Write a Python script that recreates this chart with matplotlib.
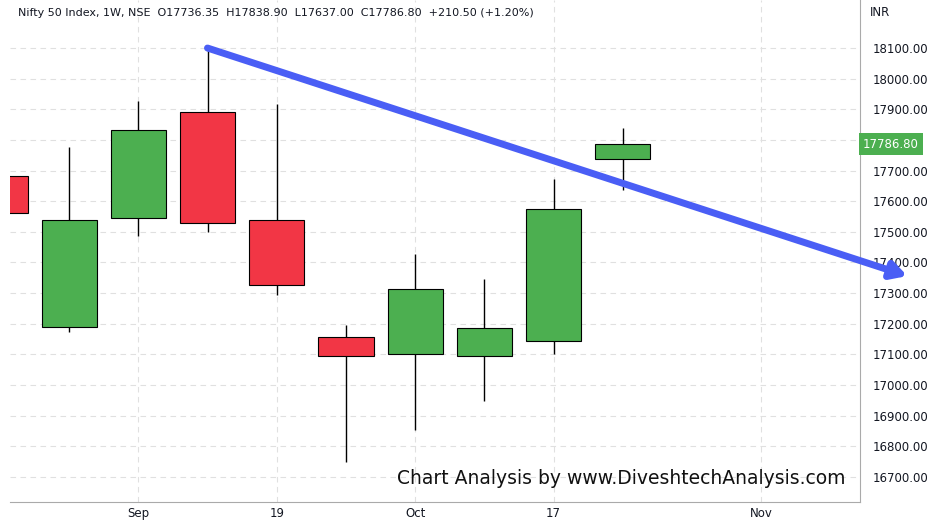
import matplotlib.pyplot as plt

# weekly candles, Nifty 50
opens = [17682, 17190, 17545, 17891, 17539, 17157, 17101, 17095, 17144, 17736.35]
highs = [17700, 17777, 17927, 18103, 17917, 17196, 17428, 17346, 17672, 17838.90]
lows = [17540, 17173, 17486, 17499, 17294, 16749, 16853, 16948, 17101, 17637.00]
closes = [17561, 17539, 17832, 17529, 17326, 17095, 17313, 17186, 17575, 17786.80]
xtick_pos = [2, 4, 6, 8, 11]
xtick_labels = ["Sep", "19", "Oct", "17", "Nov"]
ytick_vals = list(range(16700, 18101, 100))
last_price = 17786.80
arrow_start = (2.96, 18103)
arrow_end = (13.15, 17353)

fig = plt.figure(figsize=(9.38, 5.29), dpi=100)
ax = fig.add_axes([10 / 938, 27 / 529, 850 / 938, 502 / 529])
ax.set_xlim(10 / 69.2, 860 / 69.2)
ax.set_ylim(16618, 18257)

for i, (o, h, l, c) in enumerate(zip(opens, highs, lows, closes)):
    col = "#4caf50" if c >= o else "#f23645"
    ax.vlines(i, l, h, color="black", lw=1, zorder=2)
    ax.bar(i, abs(c - o), bottom=min(o, c), width=0.8, color=col,
           edgecolor="black", lw=0.8, zorder=3)

ax.set_xticks(xtick_pos)
ax.set_xticklabels(xtick_labels)
ax.set_yticks(ytick_vals)
ax.yaxis.tick_right()
# the 17800 label sits under the last-price tag
ax.set_yticklabels(["" if v == 17800 else f"{v:.2f}" for v in ytick_vals])
ax.tick_params(axis="both", length=0, labelsize=8.5, colors="#131722")
ax.tick_params(axis="y", pad=9)
ax.grid(True, color="#e0e0e0", ls=(0, (5, 4)), lw=0.8)
for s in ["top", "left"]:
    ax.spines[s].set_visible(False)
ax.spines["right"].set_color("#aaaaaa")
ax.spines["bottom"].set_color("#aaaaaa")

ax.text(860 / 69.2 + 0.04, last_price, f"{last_price:.2f}",
        ha="left", va="center", fontsize=8.5, color="white", zorder=5,
        bbox=dict(boxstyle="square,pad=0.35", fc="#4caf50", ec="none"), clip_on=False)
ax.annotate("", xy=arrow_end, xytext=arrow_start,
            arrowprops=dict(arrowstyle="-|>,head_width=0.5,head_length=0.9",
                            color="#4a5ef5", lw=5), annotation_clip=False)

fig.text(870 / 938, 1 - 13 / 529, "INR", fontsize=8.5, color="#131722", va="center")
fig.text(18 / 938, 1 - 13 / 529,
         "Nifty 50 Index, 1W, NSE  O17736.35  H17838.90  L17637.00  C17786.80  +210.50 (+1.20%)",
         fontsize=8, color="#131722", va="center")
fig.text(845 / 938, 1 - 478 / 529, "Chart Analysis by www.DiveshtechAnalysis.com",
         fontsize=13.5, ha="right", va="center", color="#111111")

fig.savefig("out.png", dpi=100)
